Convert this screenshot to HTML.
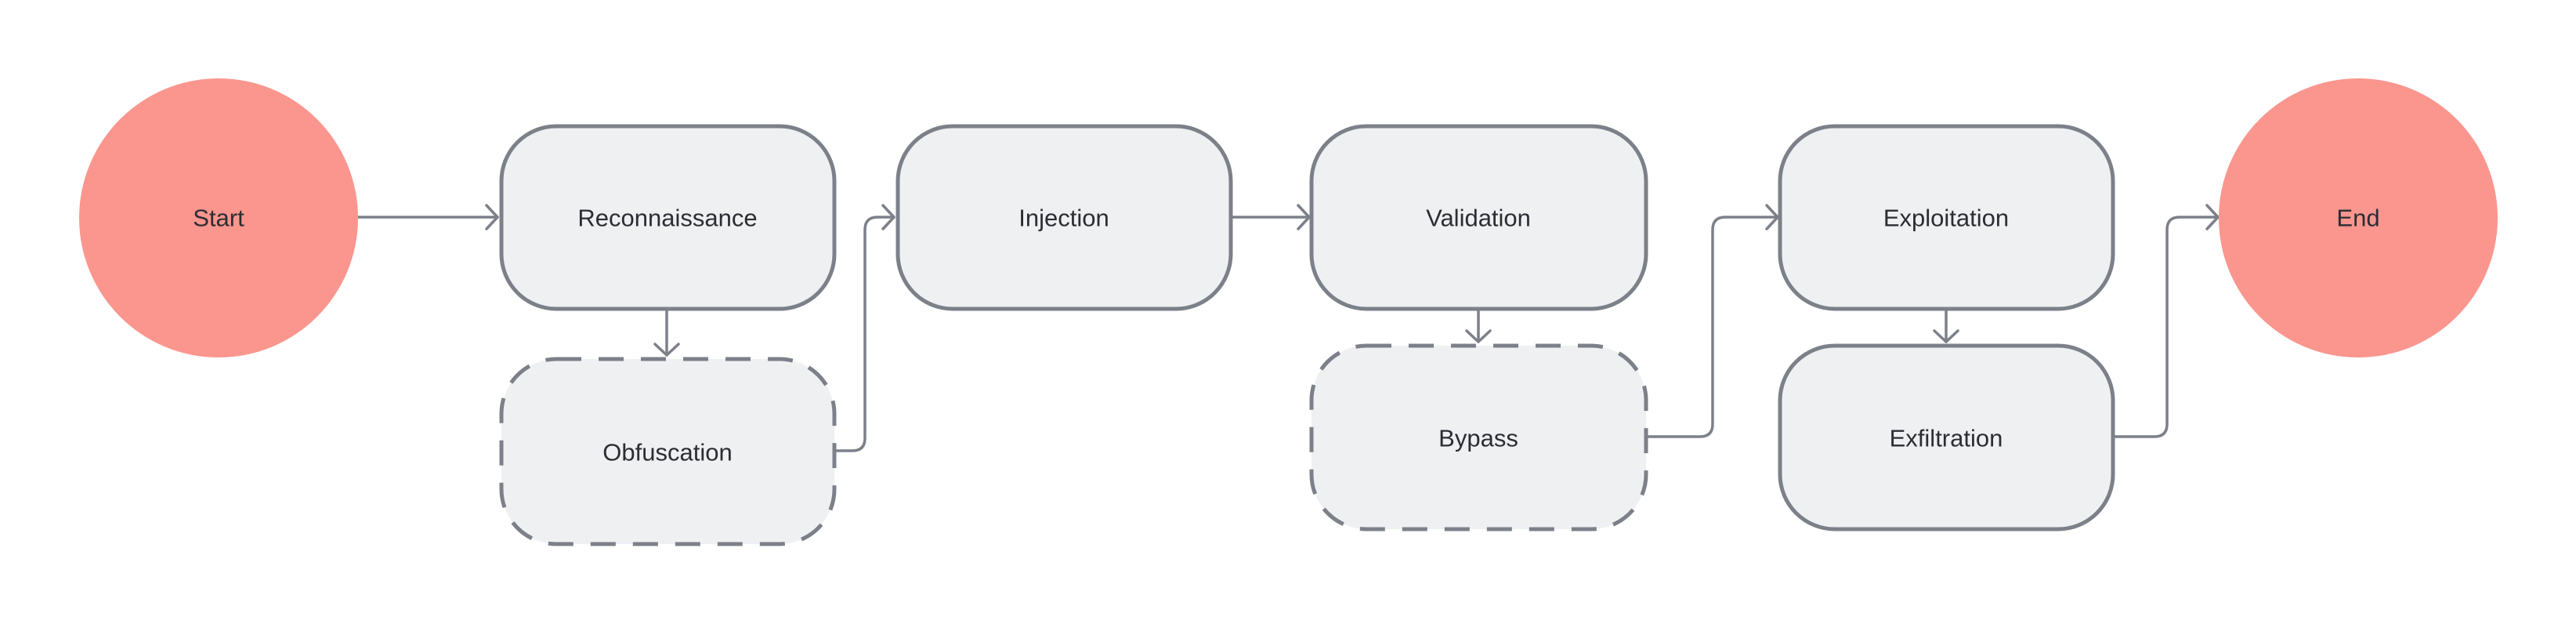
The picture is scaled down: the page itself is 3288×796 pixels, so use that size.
<!DOCTYPE html>
<html><head><meta charset="utf-8"><style>
html,body{margin:0;padding:0;background:#fff;}
svg{display:block;}
text{font-family:"Liberation Sans",sans-serif;font-size:31px;fill:#2b2d33;text-anchor:middle;dominant-baseline:central;}
</style></head><body>
<svg width="3288" height="796" viewBox="0 0 3288 796" xmlns="http://www.w3.org/2000/svg">
<rect width="3288" height="796" fill="#fff"/>
<g fill="none" stroke="#7c8089" stroke-width="3.5" stroke-linecap="round" stroke-linejoin="round">
<path d="M456 277 H635"/><path d="M621 262 L635 277 L621 292"/>
<path d="M851 395 V453"/><path d="M836 439 L851 453 L866 439"/>
<path d="M1068 575 H1088 Q1104 575 1104 559 V293 Q1104 277 1120 277 H1141"/><path d="M1127 262 L1141 277 L1127 292"/>
<path d="M1573 277 H1671"/><path d="M1657 262 L1671 277 L1657 292"/>
<path d="M1887 395 V436"/><path d="M1872 422 L1887 436 L1902 422"/>
<path d="M2103 557 H2170 Q2186 557 2186 541 V293 Q2186 277 2202 277 H2269"/><path d="M2255 262 L2269 277 L2255 292"/>
<path d="M2484 395 V436"/><path d="M2469 422 L2484 436 L2499 422"/>
<path d="M2699 557 H2750 Q2766 557 2766 541 V293 Q2766 277 2782 277 H2831"/><path d="M2817 262 L2831 277 L2817 292"/>
</g>
<circle cx="279" cy="278" r="178" fill="#fa968e"/>
<circle cx="3010" cy="278" r="178" fill="#fa968e"/>
<g fill="#eff0f2" stroke="#7c8089" stroke-width="5">
<rect x="640" y="161" width="425" height="233" rx="70"/>
<rect x="1146" y="161" width="425" height="233" rx="70"/>
<rect x="1674" y="161" width="427" height="233" rx="70"/>
<rect x="2272" y="161" width="425" height="233" rx="70"/>
<rect x="2272" y="441" width="425" height="234" rx="70"/>
<rect x="640" y="458" width="425" height="236" rx="70" stroke-dasharray="32 22"/>
<rect x="1674" y="441" width="427" height="234" rx="70" stroke-dasharray="32 22"/>
</g>
<text x="279" y="278">Start</text>
<text x="852" y="278">Reconnaissance</text>
<text x="852" y="577">Obfuscation</text>
<text x="1358" y="278">Injection</text>
<text x="1887" y="278">Validation</text>
<text x="1887" y="559">Bypass</text>
<text x="2484" y="278">Exploitation</text>
<text x="2484" y="559">Exfiltration</text>
<text x="3010" y="278">End</text>
</svg>
</body></html>
